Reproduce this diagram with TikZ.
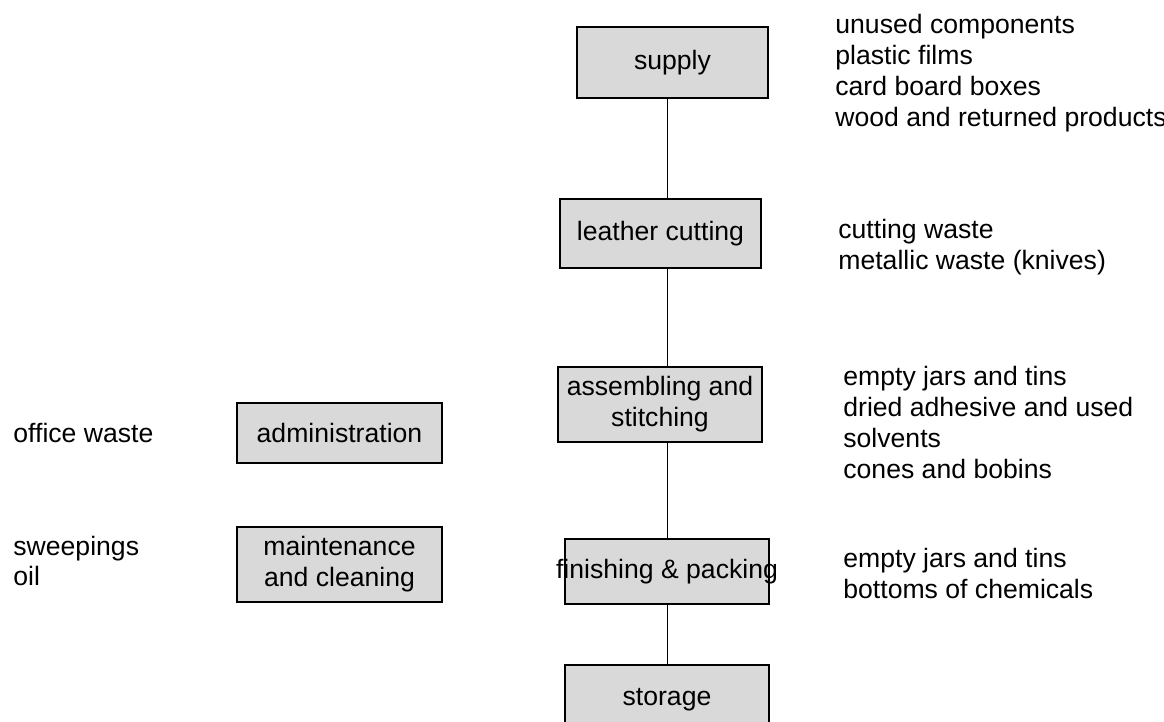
\documentclass[tikz,border=0pt]{standalone}
\usepackage{fontspec}
\setmainfont{Liberation Sans}
\begin{document}
\begin{tikzpicture}[x=0.5pt, y=-0.5pt,
  stage/.style={draw=black, line width=1pt, fill=black!15, inner sep=0pt,
    align=center, font=\fontsize{13.3}{15.5}\selectfont},
  waste/.style={anchor=north west, inner sep=0pt, align=left,
    font=\fontsize{13.3}{15.5}\selectfont},
  link/.style={line width=0.7pt}]
\useasboundingbox (0,0) rectangle (1164,722);

% process stages
\node[stage, minimum width=95.5pt, minimum height=35.5pt] (supply) at (672.5,62.5) {supply};
\node[stage, minimum width=100.5pt, minimum height=34.5pt] (cutting) at (660.5,233.5) {leather cutting};
\node[stage, minimum width=102pt, minimum height=37.5pt] (assembly) at (660,404.5) {assembling and\\stitching};
\node[stage, minimum width=102pt, minimum height=32.5pt] (finishing) at (667,571.5) {\makebox[0pt]{finishing \& packing}};
\node[stage, minimum width=102pt, minimum height=35pt] (storage) at (667,700) {storage};

% support activities
\node[stage, minimum width=102.5pt, minimum height=30pt] (admin) at (339.5,433) {administration};
\node[stage, minimum width=102.5pt, minimum height=37.5pt] (maint) at (339.5,564.5) {maintenance\\ and cleaning};

% main flow line
\coordinate (spine) at (667.5,0);
\draw[link] (supply.south -| spine) -- (cutting.north -| spine);
\draw[link] (cutting.south -| spine) -- (assembly.north -| spine);
\draw[link] (assembly.south -| spine) -- (finishing.north -| spine);
\draw[link] (finishing.south -| spine) -- (storage.north -| spine);

% waste lists (first baseline 21.7 units below the top)
\node[waste] (w-supply) at (835,11.3) {\strut unused components\\plastic films\\card board boxes\\wood and returned products};
\node[waste] (w-cutting) at (838,216.3) {\strut cutting waste\\metallic waste (knives)};
\node[waste] (w-assembly) at (843,363.3) {\strut empty jars and tins\\dried adhesive and used\\solvents\\cones and bobins};
\node[waste] (w-finishing) at (843,545.3) {\strut empty jars and tins\\bottoms of chemicals};
\node[waste] (w-admin) at (13,420.3) {\strut office waste};
\node[waste, font=\fontsize{13.3}{14.8}\selectfont] (w-maint) at (13,534.3) {\strut sweepings\\oil};
\end{tikzpicture}
\end{document}
